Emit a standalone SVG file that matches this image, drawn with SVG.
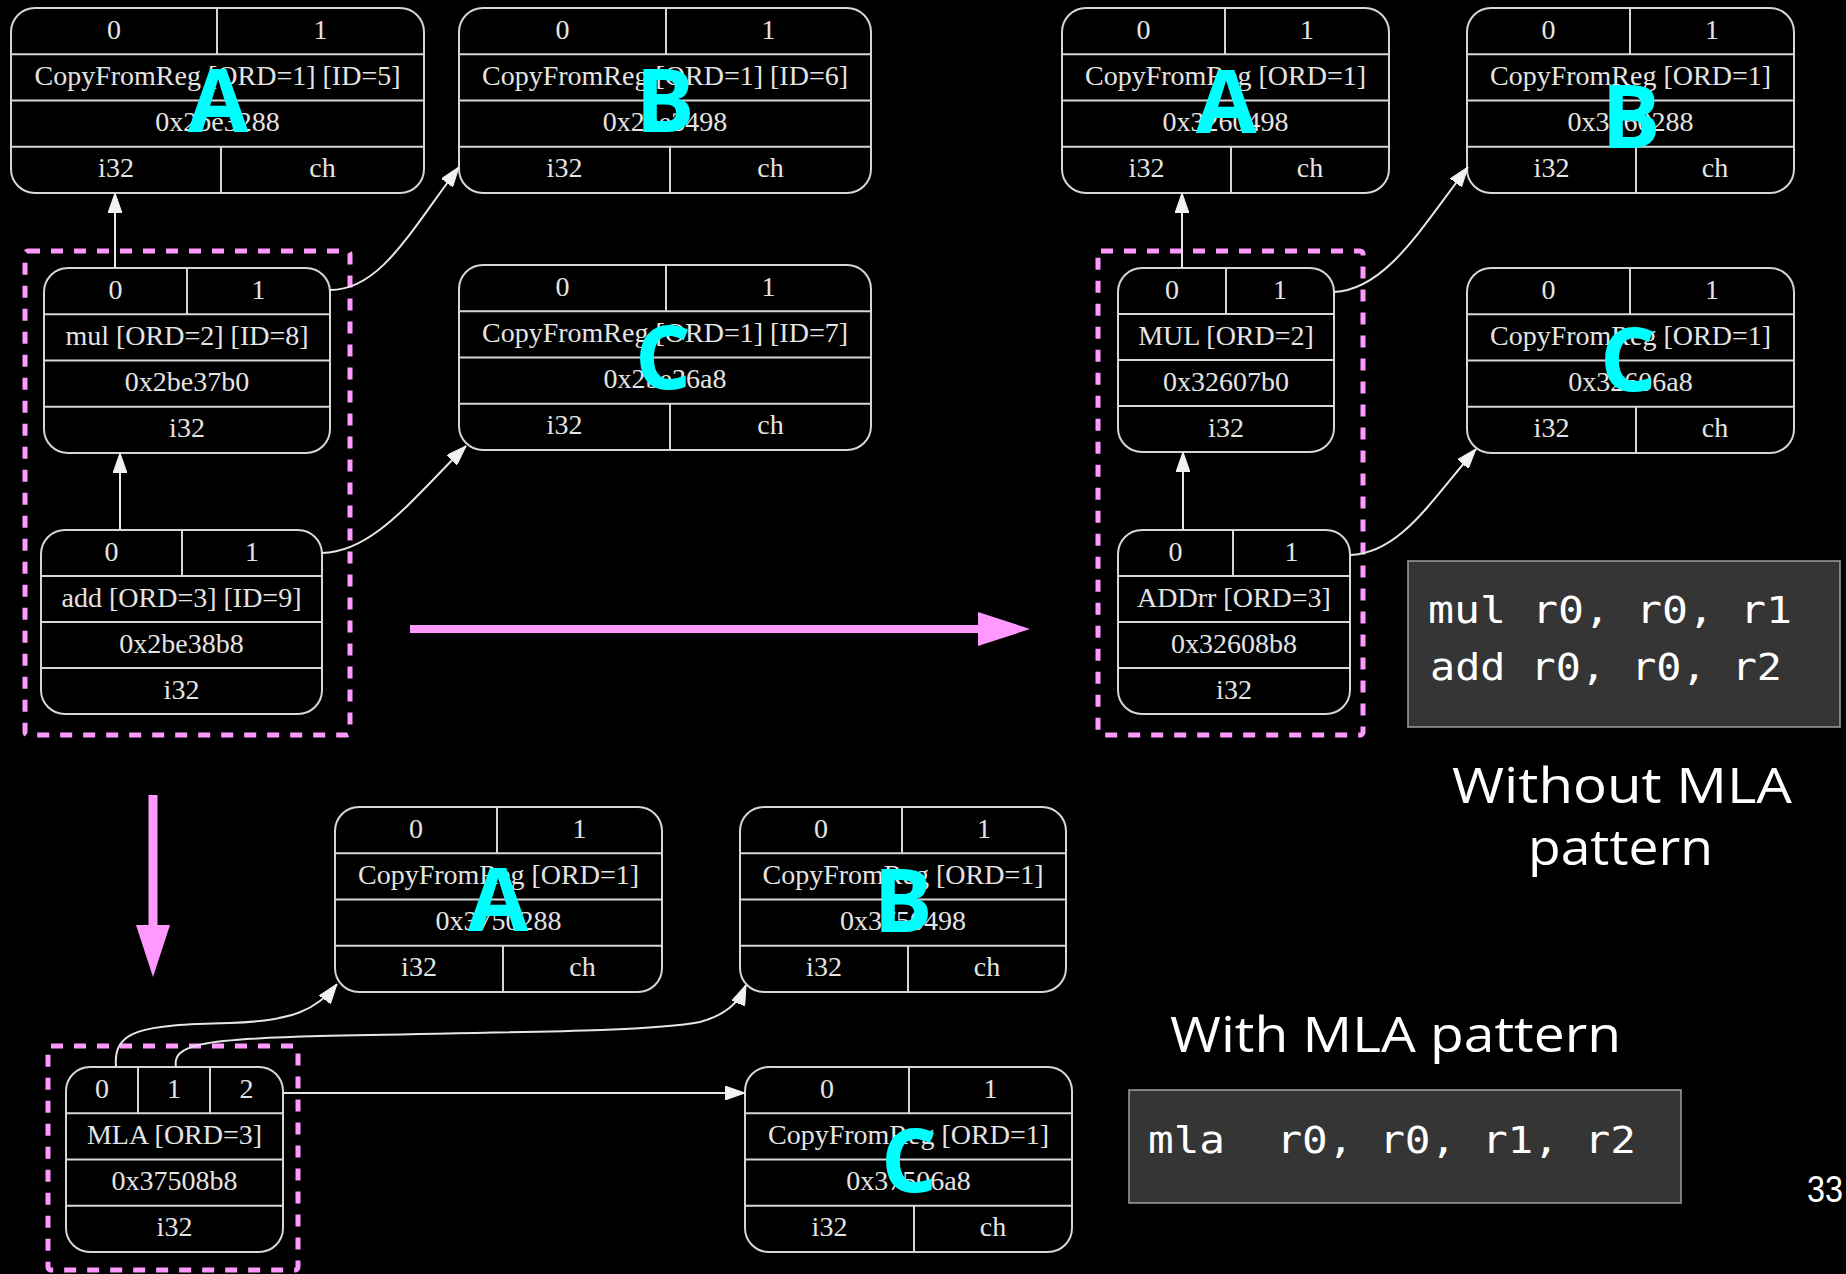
<svg xmlns="http://www.w3.org/2000/svg" width="1846" height="1274" viewBox="0 0 1846 1274">
  <defs>
    <style>
      .box { fill: #000; stroke: #d6d6d6; stroke-width: 2; }
      .div { fill: none; stroke: #d6d6d6; stroke-width: 2; }
      .t { font-family: "Liberation Serif", "Times New Roman", serif; font-size: 28px; fill: #e4e4e4; text-anchor: middle; }
      .edge { fill: none; stroke: #e6e6e6; stroke-width: 2; }
      .group { fill: none; stroke: #ff99ff; stroke-width: 5; stroke-dasharray: 12 11; }
      .pink { fill: #ff99ff; }
      .tag { font-family: "Open Sans", "Liberation Sans", sans-serif; font-weight: 700; font-size: 88px; fill: #00ffff; text-anchor: middle; }
      .code-bg { fill: #353535; stroke: #a0a0a0; stroke-width: 1.5; }
      .code { font-family: "DejaVu Sans Mono", "Liberation Mono", monospace; font-size: 38px; fill: #ffffff; }
      .title { font-family: "Open Sans", "Liberation Sans", sans-serif; font-size: 50px; fill: #ffffff; }
      .pg { font-family: "Liberation Sans", sans-serif; font-size: 36px; fill: #ffffff; }
    </style>
    <marker id="arr" viewBox="0 0 20 14" refX="20" refY="7" markerWidth="20" markerHeight="14" markerUnits="userSpaceOnUse" orient="auto">
      <path d="M0,0 L20,7 L0,14 z" fill="#f2f2f2" stroke="#f2f2f2" stroke-width="1"/>
    </marker>
  </defs>

  <rect width="1846" height="1274" fill="#000"/>

  <!-- ===== Selection DAG before matching ===== -->
  <g id="left-A">
    <rect class="box" x="11" y="8" width="413" height="185" rx="24"/>
    <path class="div" d="M11,54.2H424M11,100.5H424M11,146.8H424M217,8V54.2M221,146.8V193"/>
    <text class="t" x="114" y="38.6">0</text>
    <text class="t" x="320.5" y="38.6">1</text>
    <text class="t" x="217.5" y="84.9">CopyFromReg [ORD=1] [ID=5]</text>
    <text class="t" x="217.5" y="131.1">0x2be3288</text>
    <text class="t" x="116" y="177.4">i32</text>
    <text class="t" x="322.5" y="177.4">ch</text>
  </g>
  <g id="left-B">
    <rect class="box" x="459" y="8" width="412" height="185" rx="24"/>
    <path class="div" d="M459,54.2H871M459,100.5H871M459,146.8H871M666,8V54.2M670,146.8V193"/>
    <text class="t" x="562.5" y="38.6">0</text>
    <text class="t" x="768.5" y="38.6">1</text>
    <text class="t" x="665" y="84.9">CopyFromReg [ORD=1] [ID=6]</text>
    <text class="t" x="665" y="131.1">0x2be3498</text>
    <text class="t" x="564.5" y="177.4">i32</text>
    <text class="t" x="770.5" y="177.4">ch</text>
  </g>
  <g id="left-C">
    <rect class="box" x="459" y="265" width="412" height="185" rx="24"/>
    <path class="div" d="M459,311.2H871M459,357.5H871M459,403.8H871M666,265V311.2M670,403.8V450"/>
    <text class="t" x="562.5" y="295.6">0</text>
    <text class="t" x="768.5" y="295.6">1</text>
    <text class="t" x="665" y="341.9">CopyFromReg [ORD=1] [ID=7]</text>
    <text class="t" x="665" y="388.1">0x2be36a8</text>
    <text class="t" x="564.5" y="434.4">i32</text>
    <text class="t" x="770.5" y="434.4">ch</text>
  </g>
  <g id="left-mul">
    <rect class="box" x="44" y="268" width="286" height="185" rx="24"/>
    <path class="div" d="M44,314.2H330M44,360.5H330M44,406.8H330M187,268V314.2"/>
    <text class="t" x="115.5" y="298.6">0</text>
    <text class="t" x="258.5" y="298.6">1</text>
    <text class="t" x="187" y="344.9">mul [ORD=2] [ID=8]</text>
    <text class="t" x="187" y="391.1">0x2be37b0</text>
    <text class="t" x="187" y="437.4">i32</text>
  </g>
  <g id="left-add">
    <rect class="box" x="41" y="530" width="281" height="184" rx="24"/>
    <path class="div" d="M41,576H322M41,622H322M41,668H322M182,530V576"/>
    <text class="t" x="111.5" y="560.6">0</text>
    <text class="t" x="252" y="560.6">1</text>
    <text class="t" x="181.5" y="606.6">add [ORD=3] [ID=9]</text>
    <text class="t" x="181.5" y="652.6">0x2be38b8</text>
    <text class="t" x="181.5" y="698.6">i32</text>
  </g>
  <rect id="left-group" class="group" x="25" y="251" width="325" height="484" rx="3"/>

  <!-- ===== Selected machine DAG (no MLA) ===== -->
  <g id="right-A">
    <rect class="box" x="1062" y="8" width="327" height="185" rx="24"/>
    <path class="div" d="M1062,54.2H1389M1062,100.5H1389M1062,146.8H1389M1225,8V54.2M1231,146.8V193"/>
    <text class="t" x="1143.5" y="38.6">0</text>
    <text class="t" x="1307" y="38.6">1</text>
    <text class="t" x="1225.5" y="84.9">CopyFromReg [ORD=1]</text>
    <text class="t" x="1225.5" y="131.1">0x3260498</text>
    <text class="t" x="1146.5" y="177.4">i32</text>
    <text class="t" x="1310" y="177.4">ch</text>
  </g>
  <g id="right-B">
    <rect class="box" x="1467" y="8" width="327" height="185" rx="24"/>
    <path class="div" d="M1467,54.2H1794M1467,100.5H1794M1467,146.8H1794M1630,8V54.2M1636,146.8V193"/>
    <text class="t" x="1548.5" y="38.6">0</text>
    <text class="t" x="1712" y="38.6">1</text>
    <text class="t" x="1630.5" y="84.9">CopyFromReg [ORD=1]</text>
    <text class="t" x="1630.5" y="131.1">0x3260288</text>
    <text class="t" x="1551.5" y="177.4">i32</text>
    <text class="t" x="1715" y="177.4">ch</text>
  </g>
  <g id="right-C">
    <rect class="box" x="1467" y="268" width="327" height="185" rx="24"/>
    <path class="div" d="M1467,314.2H1794M1467,360.5H1794M1467,406.8H1794M1630,268V314.2M1636,406.8V453"/>
    <text class="t" x="1548.5" y="298.6">0</text>
    <text class="t" x="1712" y="298.6">1</text>
    <text class="t" x="1630.5" y="344.9">CopyFromReg [ORD=1]</text>
    <text class="t" x="1630.5" y="391.1">0x32606a8</text>
    <text class="t" x="1551.5" y="437.4">i32</text>
    <text class="t" x="1715" y="437.4">ch</text>
  </g>
  <g id="right-MUL">
    <rect class="box" x="1118" y="268" width="216" height="184" rx="24"/>
    <path class="div" d="M1118,314H1334M1118,360H1334M1118,406H1334M1226,268V314"/>
    <text class="t" x="1172" y="298.6">0</text>
    <text class="t" x="1280" y="298.6">1</text>
    <text class="t" x="1226" y="344.6">MUL [ORD=2]</text>
    <text class="t" x="1226" y="390.6">0x32607b0</text>
    <text class="t" x="1226" y="436.6">i32</text>
  </g>
  <g id="right-ADDrr">
    <rect class="box" x="1118" y="530" width="232" height="184" rx="24"/>
    <path class="div" d="M1118,576H1350M1118,622H1350M1118,668H1350M1233,530V576"/>
    <text class="t" x="1175.5" y="560.6">0</text>
    <text class="t" x="1291.5" y="560.6">1</text>
    <text class="t" x="1234" y="606.6">ADDrr [ORD=3]</text>
    <text class="t" x="1234" y="652.6">0x32608b8</text>
    <text class="t" x="1234" y="698.6">i32</text>
  </g>
  <rect id="right-group" class="group" x="1098" y="251" width="265" height="484" rx="3"/>

  <!-- ===== Selected machine DAG (with MLA) ===== -->
  <g id="mla-A">
    <rect class="box" x="335" y="807" width="327" height="185" rx="24"/>
    <path class="div" d="M335,853.2H662M335,899.5H662M335,945.8H662M497,807V853.2M503,945.8V992"/>
    <text class="t" x="416" y="837.6">0</text>
    <text class="t" x="579.5" y="837.6">1</text>
    <text class="t" x="498.5" y="883.9">CopyFromReg [ORD=1]</text>
    <text class="t" x="498.5" y="930.1">0x3750288</text>
    <text class="t" x="419" y="976.4">i32</text>
    <text class="t" x="582.5" y="976.4">ch</text>
  </g>
  <g id="mla-B">
    <rect class="box" x="740" y="807" width="326" height="185" rx="24"/>
    <path class="div" d="M740,853.2H1066M740,899.5H1066M740,945.8H1066M902,807V853.2M908,945.8V992"/>
    <text class="t" x="821" y="837.6">0</text>
    <text class="t" x="984" y="837.6">1</text>
    <text class="t" x="903" y="883.9">CopyFromReg [ORD=1]</text>
    <text class="t" x="903" y="930.1">0x3750498</text>
    <text class="t" x="824" y="976.4">i32</text>
    <text class="t" x="987" y="976.4">ch</text>
  </g>
  <g id="mla-C">
    <rect class="box" x="745" y="1067" width="327" height="185" rx="24"/>
    <path class="div" d="M745,1113.2H1072M745,1159.5H1072M745,1205.8H1072M909,1067V1113.2M914,1205.8V1252"/>
    <text class="t" x="827" y="1097.6">0</text>
    <text class="t" x="990.5" y="1097.6">1</text>
    <text class="t" x="908.5" y="1143.9">CopyFromReg [ORD=1]</text>
    <text class="t" x="908.5" y="1190.1">0x37506a8</text>
    <text class="t" x="829.5" y="1236.4">i32</text>
    <text class="t" x="993" y="1236.4">ch</text>
  </g>
  <g id="mla-MLA">
    <rect class="box" x="66" y="1067" width="217" height="185" rx="24"/>
    <path class="div" d="M66,1113.2H283M66,1159.5H283M66,1205.8H283M138,1067V1113.2M210,1067V1113.2"/>
    <text class="t" x="102" y="1097.6">0</text>
    <text class="t" x="174" y="1097.6">1</text>
    <text class="t" x="246.5" y="1097.6">2</text>
    <text class="t" x="174.5" y="1143.9">MLA [ORD=3]</text>
    <text class="t" x="174.5" y="1190.1">0x37508b8</text>
    <text class="t" x="174.5" y="1236.4">i32</text>
  </g>
  <rect id="mla-group" class="group" x="48" y="1046" width="250" height="224" rx="3"/>

  <!-- operand edges -->
  <g id="edges">
    <path class="edge" marker-end="url(#arr)" d="M115,268 V193"/>
    <path class="edge" marker-end="url(#arr)" d="M330,290 C380,290 410,232 459,167"/>
    <path class="edge" marker-end="url(#arr)" d="M120,530 V453"/>
    <path class="edge" marker-end="url(#arr)" d="M322,553 C372,552 410,502 466,446"/>

    <path class="edge" marker-end="url(#arr)" d="M1182,268 V193"/>
    <path class="edge" marker-end="url(#arr)" d="M1334,292 C1385,290 1420,230 1468,167"/>
    <path class="edge" marker-end="url(#arr)" d="M1183,530 V452"/>
    <path class="edge" marker-end="url(#arr)" d="M1350,555 C1400,553 1430,502 1476,449"/>

    <path class="edge" marker-end="url(#arr)" d="M116,1067 C113,1030 140,1025 230,1023 C292,1021 317,1010 337,984"/>
    <path class="edge" marker-end="url(#arr)" d="M176,1067 C172,1045 200,1039 320,1036 C500,1032 650,1032 700,1022 C725,1015 738,1004 746,985"/>
    <path class="edge" marker-end="url(#arr)" d="M283,1093 H745"/>
  </g>

  <!-- transformation arrows -->
  <g id="flow-arrows">
    <rect class="pink" x="410" y="625" width="570" height="8"/>
    <polygon class="pink" points="978,612 1030,629 978,646"/>
    <rect class="pink" x="148.5" y="795" width="9" height="132"/>
    <polygon class="pink" points="136,925 153,977 170,925"/>
  </g>

  <!-- operand tags -->
  <g id="tags">
    <text class="tag" x="218" y="132">A</text>
    <text class="tag" x="665" y="132">B</text>
    <text class="tag" x="663" y="389">C</text>
    <text class="tag" x="1226" y="133">A</text>
    <text class="tag" x="1631" y="148">B</text>
    <text class="tag" x="1628" y="391">C</text>
    <text class="tag" x="498" y="931">A</text>
    <text class="tag" x="903" y="932">B</text>
    <text class="tag" x="909" y="1192">C</text>
  </g>

  <!-- resulting assembly -->
  <g id="asm-plain">
    <rect class="code-bg" x="1408" y="561" width="432" height="166"/>
    <text class="code" x="1428" y="623" textLength="364" lengthAdjust="spacingAndGlyphs">mul r0, r0, r1</text>
    <text class="code" x="1430" y="680" textLength="352" lengthAdjust="spacingAndGlyphs">add r0, r0, r2</text>
  </g>
  <g id="asm-mla">
    <rect class="code-bg" x="1129" y="1090" width="552" height="113"/>
    <text class="code" x="1148" y="1153" textLength="488" lengthAdjust="spacingAndGlyphs" xml:space="preserve">mla  r0, r0, r1, r2</text>
  </g>

  <g id="captions">
    <text class="title" x="1452" y="803" textLength="340" lengthAdjust="spacingAndGlyphs">Without MLA</text>
    <text class="title" x="1528" y="865" textLength="185" lengthAdjust="spacingAndGlyphs">pattern</text>
    <text class="title" x="1170" y="1052" textLength="451" lengthAdjust="spacingAndGlyphs">With MLA pattern</text>
    <text class="pg" x="1807" y="1202" textLength="36" lengthAdjust="spacingAndGlyphs">33</text>
  </g>
</svg>
